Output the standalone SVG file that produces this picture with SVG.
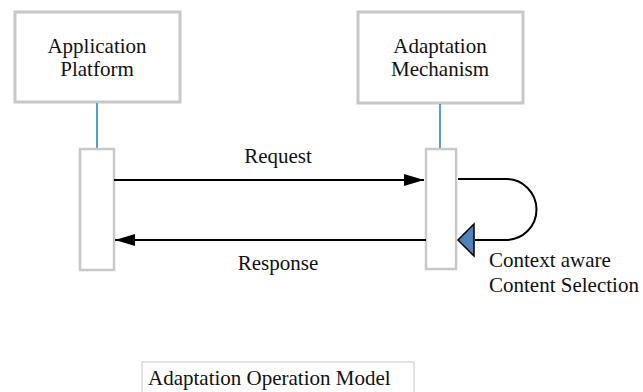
<svg xmlns="http://www.w3.org/2000/svg" width="643" height="392" viewBox="0 0 643 392">
<defs>
<style>
.box{fill:#fff;stroke:#c8c8c8;stroke-width:3}
.act{fill:#fff;stroke:#c8c8c8;stroke-width:2.5}
.life{stroke:#5b9bd5;stroke-width:2}
.msg{stroke:#000;stroke-width:2;fill:none}
</style>
<marker id="ah" markerWidth="20" markerHeight="12" refX="20" refY="6" orient="auto" markerUnits="userSpaceOnUse">
<path d="M0,0 L20,6 L0,12 Z" fill="#000"/>
</marker>
</defs>
<rect width="643" height="392" fill="#fff"/>
<g id="app-platform">
<rect class="box" x="15" y="12" width="165" height="90"/>
<text font-family="Liberation Serif" font-size="21" fill="#111" text-anchor="middle" x="97" y="53">Application</text>
<text font-family="Liberation Serif" font-size="21" fill="#111" text-anchor="middle" x="97" y="76">Platform</text>
<line class="life" x1="97" y1="103" x2="97" y2="149"/>
<rect class="act" x="80" y="149" width="34" height="121"/>
</g>
<g id="adapt-mechanism">
<rect class="box" x="358" y="12" width="165" height="91"/>
<text font-family="Liberation Serif" font-size="21" fill="#111" text-anchor="middle" x="440" y="53">Adaptation</text>
<text font-family="Liberation Serif" font-size="21" fill="#111" text-anchor="middle" x="440" y="76">Mechanism</text>
<line class="life" x1="440" y1="104" x2="440" y2="149"/>
<rect class="act" x="426" y="149" width="30" height="120"/>
</g>
<g id="connectors">
<line class="msg" x1="114" y1="180" x2="424" y2="180" marker-end="url(#ah)"/>
<line class="msg" x1="426" y1="240" x2="115" y2="240" marker-end="url(#ah)"/>
<path class="msg" d="M458,179 H506 A30.5,30.5 0 0 1 506,240 H475"/>
<path d="M474,224 L458,240 L474,256 Z" fill="#4f81bd" stroke="#000" stroke-width="1.5"/>
</g>
<g id="labels">
<text font-family="Liberation Serif" font-size="21" fill="#111" text-anchor="middle" x="278" y="163">Request</text>
<text font-family="Liberation Serif" font-size="21" fill="#111" text-anchor="middle" x="278" y="270">Response</text>
<text font-family="Liberation Serif" font-size="21" fill="#111" x="489" y="267">Context aware</text>
<text font-family="Liberation Serif" font-size="21" fill="#111" x="489" y="292">Content Selection</text>
</g>
<g id="title">
<rect x="142" y="362" width="272" height="40" fill="#fff" stroke="#d9d9d9" stroke-width="1.5"/>
<text font-family="Liberation Serif" font-size="21" fill="#111" x="148" y="385">Adaptation Operation Model</text>
</g>
</svg>
